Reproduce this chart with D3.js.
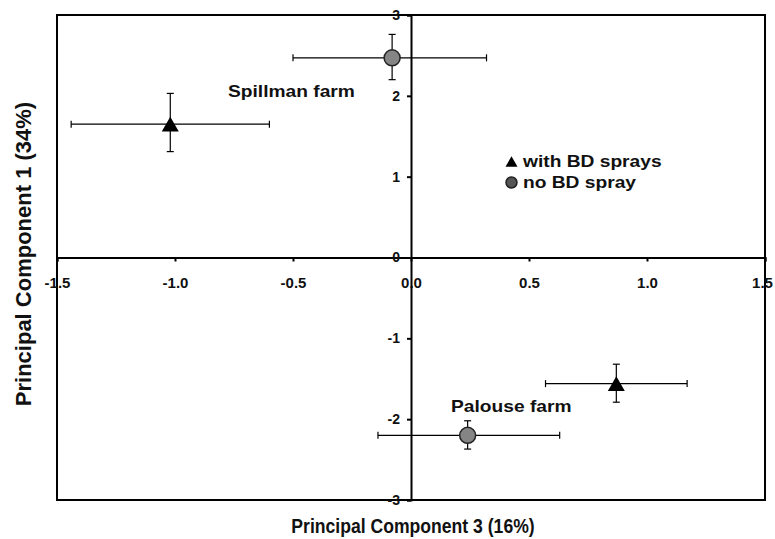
<!DOCTYPE html>
<html lang="en">
<head>
<meta charset="utf-8">
<script src="https://cdn.jsdelivr.net/npm/d3@7"></script>
<style>
  body { margin: 0; background: #fff; }
  text { font-family: "Liberation Sans", Arial, sans-serif; font-weight: bold; fill: #111; }
</style>
</head>
<body>
<div id="chart"></div>
<script>
// PCA scores (mean +/- error)
const farms     = ["Spillman farm", "Spillman farm", "Palouse farm", "Palouse farm"];
const treatment = ["with BD sprays", "no BD spray", "with BD sprays", "no BD spray"];
const pc3       = [-1.02, -0.08, 0.87, 0.24];
const pc3Lo     = [-1.44, -0.50, 0.57, -0.14];
const pc3Hi     = [-0.60, 0.32, 1.17, 0.63];
const pc1       = [1.65, 2.47, -1.56, -2.20];
const pc1Lo     = [1.31, 2.20, -1.79, -2.37];
const pc1Hi     = [2.03, 2.76, -1.32, -2.02];

const xTicks = [-1.5, -1.0, -0.5, 0.0, 0.5, 1.0, 1.5];
const yTicks = [-3, -2, -1, 0, 1, 2, 3];

const width = 775, height = 539;
const svg = d3.select("#chart").append("svg")
    .attr("width", width)
    .attr("height", height);

const x = d3.scaleLinear().domain([-1.5, 1.5]).range([57, 765]);
const y = d3.scaleLinear().domain([-3, 3]).range([500, 15]);

// plain hyphen instead of unicode minus, like the original
const hy = f => d => f(d).replace("\u2212", "-");

// frame
svg.append("rect")
    .attr("x", x(-1.5)).attr("y", y(3))
    .attr("width", x(1.5) - x(-1.5)).attr("height", y(-3) - y(3))
    .attr("fill", "none").attr("stroke", "#000").attr("stroke-width", 2);

// x axis through y = 0, ticks pointing down
const xAxis = svg.append("g")
    .attr("transform", `translate(0,${y(0)})`)
    .call(d3.axisBottom(x).tickValues(xTicks).tickSize(4).tickPadding(16)
        .tickFormat(hy(d3.format(".1f"))));
xAxis.selectAll("text").attr("font-size", 15);
// last label sits right on the page edge
xAxis.selectAll(".tick").filter(d => d === 1.5).select("text").attr("x", -3);

// y axis through x = 0, ticks pointing left
const yAxis = svg.append("g")
    .attr("transform", `translate(${x(0)},0)`)
    .call(d3.axisLeft(y).tickValues(yTicks).tickSize(4).tickPadding(7)
        .tickFormat(hy(d3.format("d"))));
yAxis.selectAll("text").attr("font-size", 14);

[xAxis, yAxis].forEach(a => {
    a.selectAll("path, line").attr("stroke", "#000").attr("stroke-width", 2);
    a.selectAll("text").attr("fill", "#111");
});

const pts = d3.range(pc3.length).map(i => ({
    farm: farms[i], trt: treatment[i],
    x: pc3[i], xlo: pc3Lo[i], xhi: pc3Hi[i],
    y: pc1[i], ylo: pc1Lo[i], yhi: pc1Hi[i]
}));

// error bars
const cap = 3.5;
const eb = svg.append("g").attr("stroke", "#000").attr("stroke-width", 1.2);
pts.forEach(d => {
    eb.append("line").attr("x1", x(d.xlo)).attr("x2", x(d.xhi))
        .attr("y1", y(d.y)).attr("y2", y(d.y));
    eb.append("line").attr("x1", x(d.xlo)).attr("x2", x(d.xlo))
        .attr("y1", y(d.y) - cap).attr("y2", y(d.y) + cap);
    eb.append("line").attr("x1", x(d.xhi)).attr("x2", x(d.xhi))
        .attr("y1", y(d.y) - cap).attr("y2", y(d.y) + cap);
    eb.append("line").attr("x1", x(d.x)).attr("x2", x(d.x))
        .attr("y1", y(d.ylo)).attr("y2", y(d.yhi));
    eb.append("line").attr("x1", x(d.x) - cap).attr("x2", x(d.x) + cap)
        .attr("y1", y(d.ylo)).attr("y2", y(d.ylo));
    eb.append("line").attr("x1", x(d.x) - cap).attr("x2", x(d.x) + cap)
        .attr("y1", y(d.yhi)).attr("y2", y(d.yhi));
});

// markers: triangle = with BD sprays, grey dot = no BD spray
function drawMarker(g, trt, cx, cy, w, fill) {
    if (trt === "with BD sprays") {
        const area = Math.sqrt(3) / 4 * w * w;
        const h = w * Math.sqrt(3) / 2;
        g.append("path")
            .attr("d", d3.symbol().type(d3.symbolTriangle).size(area)())
            .attr("transform", `translate(${cx},${cy + h / 6})`)
            .attr("fill", "#000");
    } else {
        g.append("circle")
            .attr("cx", cx).attr("cy", cy).attr("r", w / 2 - 0.5)
            .attr("fill", fill).attr("stroke", "#222").attr("stroke-width", 1.5);
    }
}
const marks = svg.append("g");
pts.forEach(d => drawMarker(marks, d.trt, x(d.x), y(d.y), 17, "#858585"));

// farm labels
function label(t, lx, ly) {
    svg.append("text")
        .attr("transform", `translate(${lx},${ly}) scale(1.2,1)`)
        .attr("font-size", 16).text(t);
}
label(farms[0], 228, 97);
label(farms[2], 451, 412);

// legend
const legendItems = ["with BD sprays", "no BD spray"];
const leg = svg.append("g");
legendItems.forEach((t, i) => {
    const ly = 167 + i * 21;
    drawMarker(leg, t, 511.5, ly - 5.5, 12, "#555");
    leg.append("text")
        .attr("transform", `translate(523,${ly}) scale(1.2,1)`)
        .attr("font-size", 16).text(t);
});

// axis titles
svg.append("text")
    .attr("transform", "translate(413,533) scale(0.88,1)")
    .attr("text-anchor", "middle").attr("font-size", 20)
    .text("Principal Component 3 (16%)");
svg.append("text")
    .attr("transform", `translate(31,254) rotate(-90)`)
    .attr("text-anchor", "middle").attr("font-size", 22)
    .text("Principal Component 1 (34%)");
</script>
</body>
</html>
